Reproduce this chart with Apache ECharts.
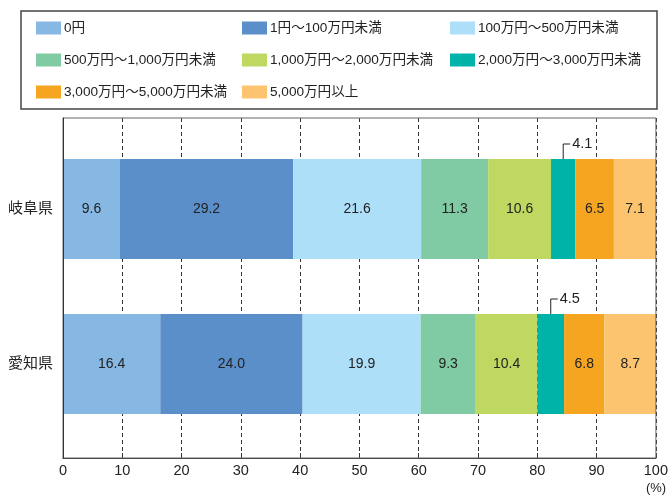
<!DOCTYPE html>
<html>
<head>
<meta charset="utf-8">
<script src="https://cdn.jsdelivr.net/npm/echarts@6/dist/echarts.min.js"></script>
<style>
  html, body { margin: 0; padding: 0; background: #fff; }
  #chart { width: 671px; height: 496px; }
</style>
</head>
<body>
<div id="chart"></div>
<script>
// Prefectures (rows, top to bottom)
const categories = ['岐阜県', '愛知県'];

// Bracket names (stack order, left to right)
const seriesNames = [
  '0円',
  '1円～100万円未満',
  '100万円～500万円未満',
  '500万円～1,000万円未満',
  '1,000万円～2,000万円未満',
  '2,000万円～3,000万円未満',
  '3,000万円～5,000万円未満',
  '5,000万円以上'
];

// Share of households per bracket (%)
const gifuValues  = [9.6, 29.2, 21.6, 11.3, 10.6, 4.1, 6.5, 7.1];
const aichiValues = [16.4, 24.0, 19.9, 9.3, 10.4, 4.5, 6.8, 8.7];

// Axis tick labels
const xTickLabels = ['0', '10', '20', '30', '40', '50', '60', '70', '80', '90', '100'];

const colors = ['#86b8e3', '#5b8fca', '#ade0f8', '#80cba3', '#bed862', '#00b3a8', '#f6a521', '#fdc470'];

const FONT = "'Liberation Sans', 'Noto Sans CJK JP', sans-serif";
const BAR_W = 100;
const CALLOUT_INDEX = 5; // narrow segment labelled outside the bar

const rows = [gifuValues, aichiValues];

// Legend: three columns, three rows
const legendCols = [36, 242, 450];
const legendRows = [28, 60, 92];
const legends = seriesNames.map((name, i) => ({
  data: [name],
  left: legendCols[i % 3],
  top: legendRows[Math.floor(i / 3)] - 8,
  padding: 0,
  itemWidth: 25,
  itemHeight: 13,
  icon: 'rect',
  selectedMode: false,
  textStyle: { fontFamily: FONT, fontSize: 13.6, color: '#222', lineHeight: 16, padding: [0, 0, 0, -2] }
}));

const barSeries = seriesNames.map((name, i) => ({
  name: name,
  type: 'bar',
  stack: 'total',
  xAxisIndex: 1,
  yAxisIndex: 1,
  barWidth: BAR_W,
  itemStyle: { color: colors[i] },
  label: {
    show: i !== CALLOUT_INDEX,
    position: 'inside',
    fontFamily: FONT,
    fontSize: 14,
    color: '#222',
    formatter: p => Number(p.value).toFixed(1)
  },
  emphasis: { disabled: true },
  data: rows.map(r => r[i])
}));

// Callout for the narrow segment: midpoint of that segment in each row
const calloutData = rows.map((r, ci) => {
  const start = r.slice(0, CALLOUT_INDEX).reduce((a, b) => a + b, 0);
  return [start + r[CALLOUT_INDEX] / 2, ci, r[CALLOUT_INDEX]];
});

const calloutSeries = {
  type: 'custom',
  xAxisIndex: 1,
  yAxisIndex: 1,
  z: 5,
  silent: true,
  data: calloutData,
  renderItem: function (params, api) {
    const p = api.coord([api.value(0), api.value(1)]);
    const top = p[1] - BAR_W / 2;
    const y = top - 15;
    return {
      type: 'group',
      children: [
        {
          type: 'polyline',
          shape: { points: [[p[0], top], [p[0], y], [p[0] + 7, y]] },
          style: { stroke: '#222', lineWidth: 1, fill: null }
        },
        {
          type: 'text',
          style: {
            x: p[0] + 9,
            y: y,
            text: Number(api.value(2)).toFixed(1),
            fontFamily: FONT,
            fontSize: 14.5,
            fill: '#222',
            align: 'left',
            verticalAlign: 'middle'
          }
        }
      ]
    };
  }
};

const option = {
  animation: false,
  backgroundColor: '#fff',
  legend: legends,
  graphic: [
    {
      type: 'rect',
      shape: { x: 21, y: 11, width: 636, height: 98 },
      style: { fill: null, stroke: '#444', lineWidth: 1.5 }
    },
    {
      type: 'text',
      x: 656,
      y: 488,
      style: { text: '(%)', fontFamily: FONT, fontSize: 13, fill: '#222', align: 'center', verticalAlign: 'middle' }
    }
  ],
  grid: [
    { left: 63, right: 15, top: 118, bottom: 38, show: true, z: 10, borderColor: '#666', borderWidth: 1, backgroundColor: 'transparent' },
    { left: 63, right: 15, top: 131.5, bottom: 54.5 }
  ],
  xAxis: [
    {
      gridIndex: 0,
      type: 'value',
      min: 0,
      max: 100,
      interval: 10,
      axisLine: { show: true, lineStyle: { color: '#333', width: 1 } },
      axisTick: { show: true, inside: true, length: 5, lineStyle: { color: '#333' } },
      axisLabel: {
        fontFamily: FONT, fontSize: 14.5, color: '#222', margin: 6,
        formatter: (v) => xTickLabels[Math.round(v / 10)]
      },
      splitLine: { show: true, lineStyle: { color: '#333', type: [4, 3], width: 1 } }
    },
    {
      gridIndex: 1,
      type: 'value',
      min: 0,
      max: 100,
      show: false
    }
  ],
  yAxis: [
    {
      gridIndex: 0,
      type: 'value',
      min: 0,
      max: 1,
      z: 10,
      axisLine: { show: true, lineStyle: { color: '#333', width: 1 } },
      axisTick: { show: false },
      axisLabel: { show: false },
      splitLine: { show: false }
    },
    {
      gridIndex: 1,
      type: 'category',
      data: categories,
      inverse: true,
      axisLine: { show: false },
      axisTick: { show: false },
      axisLabel: { fontFamily: FONT, fontSize: 15, color: '#222', margin: 10 }
    }
  ],
  series: barSeries.concat([calloutSeries])
};

const chart = echarts.init(document.getElementById('chart'), null, { renderer: 'canvas' });
chart.setOption(option);
</script>
</body>
</html>
